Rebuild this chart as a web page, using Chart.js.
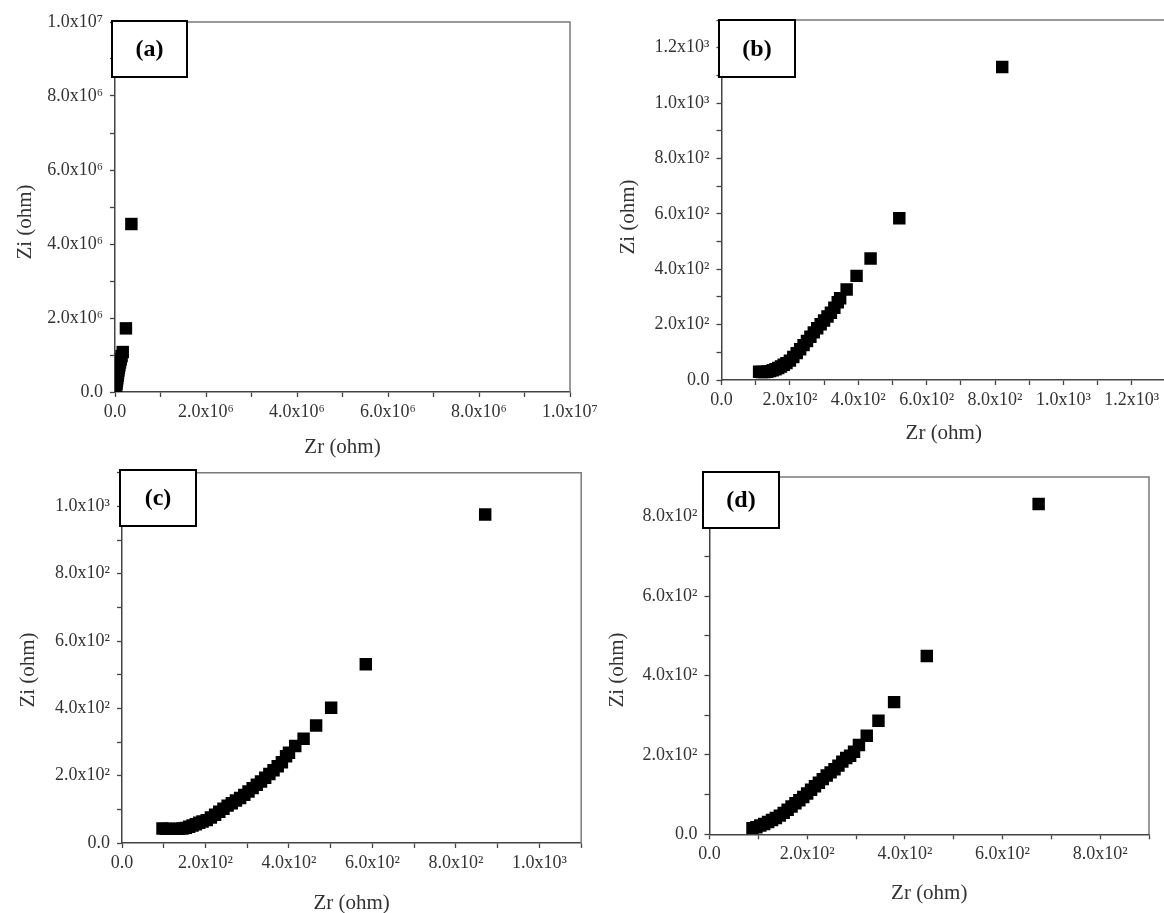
<!DOCTYPE html>
<html lang="en">
<head>
<meta charset="UTF-8">
<title>Impedance plots (a)-(d)</title>
<script src="https://cdn.jsdelivr.net/npm/chart.js"></script>
<style>
    body {
        margin: 0;
        width: 1164px;
        height: 913px;
        overflow: hidden;
        background: #fff;
        position: relative;
    }
    canvas {
        position: absolute;
    }
</style>
</head>
<body>
<canvas id="chartA" width="610" height="460" style="left:0;top:0"></canvas>
<canvas id="chartB" width="610" height="450" style="left:582px;top:0"></canvas>
<canvas id="chartC" width="590" height="458" style="left:0;top:455px"></canvas>
<canvas id="chartD" width="574" height="458" style="left:590px;top:455px"></canvas>

<script>
    // (a) values in ohm
    const aZr = [10000, 18000, 26000, 34000, 42000, 50000, 58000, 66000, 75000, 85000, 96000, 110000, 125000, 145000, 170000, 240000, 360000];
    const aZi = [20000, 90000, 160000, 230000, 300000, 370000, 440000, 510000, 580000, 650000, 720000, 800000, 880000, 970000, 1080000, 1720000, 4540000];

    // (b)
    const bZr = [110, 118, 126, 134, 142, 150, 158, 166, 174, 182, 190, 200, 210, 220, 230, 240, 250, 260, 270, 280, 290, 300, 310, 320, 330, 340, 347, 366, 395, 436, 520, 821];
    const bZi = [30, 29, 29, 30, 32, 35, 39, 43, 49, 55, 61, 70, 83, 97, 111, 126, 141, 156, 172, 187, 201, 215, 229, 243, 261, 281, 295, 327, 376, 439, 584, 1130];

    // (c)
    const cZr = [97, 105, 113, 121, 129, 137, 145, 153, 161, 169, 177, 185, 193, 203, 213, 223, 233, 243, 253, 263, 273, 283, 293, 303, 313, 323, 333, 343, 353, 363, 373, 383, 393, 400, 415, 435, 465, 501, 584, 870];
    const cZi = [43, 42, 42, 42, 42, 42, 43, 45, 48, 52, 56, 60, 64, 68, 76, 84, 93, 102, 111, 118, 126, 134, 143, 153, 163, 173, 183, 194, 205, 216, 228, 240, 258, 268, 288, 310, 349, 402, 531, 976];

    // (d)
    const dZr = [88, 96, 104, 112, 120, 128, 136, 144, 152, 160, 168, 176, 184, 192, 200, 208, 216, 224, 232, 240, 248, 256, 264, 272, 280, 288, 296, 306, 322, 346, 378, 445, 674];
    const dZi = [15, 18, 22, 26, 31, 36, 41, 47, 54, 62, 70, 78, 86, 94, 103, 112, 121, 130, 139, 148, 156, 164, 173, 183, 192, 198, 208, 225, 248, 286, 333, 449, 832];

    // axis ranges and tick steps (minor step, labels every 2 steps)
    const aRange = [0, 1e7], aStep = 1e6;
    const bRange = [0, 1300], bStep = 100;
    const cRange = [0, 1100], cStep = 100;
    const dRange = [0, 900], dStep = 100;

    const SUP = { 2: '\u00B2', 3: '\u00B3', 6: '\u2076', 7: '\u2077' };
    const SERIF = '"Liberation Serif", "Times New Roman", serif';

    function sci(v) {
        if (v === 0) return '0.0';
        const e = Math.floor(Math.log10(Math.abs(v)) + 1e-9);
        const m = v / Math.pow(10, e);
        return m.toFixed(1) + 'x10' + SUP[e];
    }

    // frame, axis titles and the (a)/(b)... label box
    const decor = {
        id: 'decor',
        afterDraw(chart, args, o) {
            const ctx = chart.ctx;
            const a = chart.chartArea;
            ctx.save();
            ctx.strokeStyle = '#7a7a7a';
            ctx.lineWidth = 1.5;
            ctx.beginPath();
            ctx.moveTo(a.left, a.top);
            ctx.lineTo(a.right, a.top);
            ctx.lineTo(a.right, a.bottom);
            ctx.stroke();

            ctx.fillStyle = '#333';
            ctx.font = '21px ' + SERIF;
            ctx.textAlign = 'center';
            ctx.textBaseline = 'middle';
            ctx.fillText('Zr (ohm)', (a.left + a.right) / 2, o.xTitleY - o.oy);
            ctx.save();
            ctx.translate(o.yTitleX - o.ox, o.yTitleY - o.oy);
            ctx.rotate(-Math.PI / 2);
            ctx.fillText('Zi (ohm)', 0, 0);
            ctx.restore();

            const [bx, by, bw, bh] = o.box;
            ctx.fillStyle = '#fff';
            ctx.fillRect(bx - o.ox, by - o.oy, bw, bh);
            ctx.strokeStyle = '#000';
            ctx.lineWidth = 2;
            ctx.strokeRect(bx - o.ox, by - o.oy, bw, bh);
            ctx.fillStyle = '#000';
            ctx.font = 'bold 24px ' + SERIF;
            ctx.fillText(o.label, bx - o.ox + bw / 2, by - o.oy + bh / 2 + 1);
            ctx.restore();
        }
    };

    function axis(range, step, extra) {
        return Object.assign({
            type: 'linear',
            min: range[0],
            max: range[1],
            border: { color: '#444', width: 1.5 },
            grid: { drawOnChartArea: false, drawTicks: true, tickLength: 5, color: '#444', tickWidth: 1.3 },
            ticks: {
                stepSize: step,
                autoSkip: false,
                maxRotation: 0,
                color: '#333',
                font: { family: SERIF, size: 18 },
                callback(v) {
                    const k = v / (2 * step);
                    if (Math.abs(k - Math.round(k)) > 1e-6) return '';
                    return sci(v);
                }
            }
        }, extra);
    }

    function makePanel(id, cfg) {
        const canvas = document.getElementById(id);
        const ox = cfg.ox, oy = cfg.oy, w = canvas.width, h = canvas.height;
        const ar = cfg.area;
        const pts = cfg.zr.map((x, i) => ({ x: x, y: cfg.zi[i] }));
        const xAxis = axis(cfg.range, cfg.step, { afterFit(s) { s.height = oy + h - ar.b; } });
        xAxis.ticks.padding = 4;
        const yAxis = axis(cfg.range, cfg.step, { afterFit(s) { s.width = ar.l - ox; } });
        yAxis.ticks.padding = 7;
        return new Chart(canvas, {
            type: 'scatter',
            data: {
                datasets: [{
                    data: pts,
                    pointStyle: 'rect',
                    pointRadius: 8.8,
                    pointHoverRadius: 8.8,
                    backgroundColor: '#000',
                    borderColor: '#000',
                    borderWidth: 0,
                    clip: 0
                }]
            },
            options: {
                responsive: false,
                animation: false,
                layout: { padding: { top: ar.t - oy, right: ox + w - ar.r, left: 0, bottom: 0 } },
                scales: { x: xAxis, y: yAxis },
                plugins: {
                    legend: { display: false },
                    tooltip: { enabled: false },
                    decor: {
                        ox: ox, oy: oy,
                        label: cfg.label,
                        box: cfg.box,
                        xTitleY: cfg.xTitleY,
                        yTitleX: cfg.yTitleX,
                        yTitleY: cfg.yTitleY
                    }
                }
            },
            plugins: [decor]
        });
    }

    makePanel('chartA', {
        ox: 0, oy: 0, area: { l: 115, t: 22, r: 570, b: 392 },
        range: aRange, step: aStep, zr: aZr, zi: aZi,
        label: '(a)', box: [112, 21, 75, 56], xTitleY: 447, yTitleX: 25, yTitleY: 222
    });
    makePanel('chartB', {
        ox: 582, oy: 0, area: { l: 721.5, t: 20, r: 1166, b: 380 },
        range: bRange, step: bStep, zr: bZr, zi: bZi,
        label: '(b)', box: [719, 20, 76, 57], xTitleY: 433, yTitleX: 628, yTitleY: 217
    });
    makePanel('chartC', {
        ox: 0, oy: 455, area: { l: 122, t: 469, r: 581.7, b: 843 },
        range: cRange, step: cStep, zr: cZr, zi: cZi,
        label: '(c)', box: [120, 470, 76, 56], xTitleY: 903, yTitleX: 28, yTitleY: 670
    });
    makePanel('chartD', {
        ox: 590, oy: 455, area: { l: 709.5, t: 477, r: 1149, b: 834.3 },
        range: dRange, step: dStep, zr: dZr, zi: dZi,
        label: '(d)', box: [703, 472, 76, 56], xTitleY: 893, yTitleX: 617, yTitleY: 670
    });
</script>
</body>
</html>
